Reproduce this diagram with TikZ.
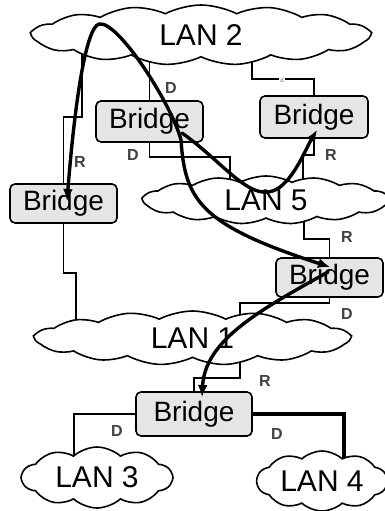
\documentclass[tikz,border=0pt]{standalone}
\usepackage{fontspec}
\setmainfont{Liberation Sans}
\usetikzlibrary{arrows.meta,shapes.symbols}
\tikzset{
  conn/.style={line width=1.8pt},
  thickconn/.style={line width=3.5pt},
  flow/.style={line width=3.4pt, line cap=round},
  ftip/.tip={Latex[length=12pt,width=10pt]},
  bridgebox/.style={rectangle, rounded corners=5pt,
    draw, line width=1.6pt, fill=black!10, inner sep=0pt, font=\fontsize{28}{28}\selectfont},
  lancloud/.style={cloud, cloud ignores aspect, draw, line width=1.6pt, fill=white, inner sep=0pt,
    font=\fontsize{30}{30}\selectfont},
  bigcloud/.style={lancloud, cloud puffs=15, cloud puff arc=55},
  smallcloud/.style={lancloud, cloud puffs=10, cloud puff arc=85},
  portlbl/.style={text=black!75, inner sep=0pt, font=\fontsize{16}{16}\selectfont\bfseries},
  tinylbl/.style={text=black!60, fill=white, inner sep=1pt, font=\fontsize{6}{6}\selectfont}
}
\begin{document}
\begin{tikzpicture}[x=1pt,y=-1pt]
\useasboundingbox (0,0) rectangle (385,511);
\clip (0,0) rectangle (385,511);
% ports inside the clouds
\coordinate (l2a) at (82,40);
\coordinate (l2b) at (149.5,45);
\coordinate (l2c) at (252,45);
\coordinate (l5a) at (230,195);
\coordinate (l5b) at (303,195);
\coordinate (l5c) at (304,205);
\coordinate (l1a) at (76,335);
\coordinate (l1b) at (240,335);
\coordinate (l1c) at (240,340);
\coordinate (l3p) at (74,475);
\coordinate (l4p) at (344,478);
% bridges
\node[bridgebox, minimum width=107pt, minimum height=41pt] (bA) at (149.5,121.5) {Bridge};
\node[bridgebox, minimum width=108pt, minimum height=42pt] (bB) at (314,117) {Bridge};
\node[bridgebox, minimum width=107pt, minimum height=39pt] (bC) at (63.5,203.5) {Bridge};
\node[bridgebox, minimum width=107pt, minimum height=39pt] (bD) at (329.5,277.5) {Bridge};
\node[bridgebox, minimum width=116pt, minimum height=44pt] (bE) at (194,414) {Bridge};
% connectors
\draw[conn] (l2a) |- (63.5,117) -- (bC.north);
\draw[conn] (bC.south) |- (76,273) -- (l1a);
\draw[conn] (l2b) -- (bA.north);
\draw[conn] (bA.south) |- (230,157) -- (l5a);
\draw[conn] (l2c) |- (314,79) -- (bB.north);
\draw[conn] (bB.south) |- (303,155) -- (l5b);
\draw[conn] (l5c) |- (329.5,239) -- (bD.north);
\draw[conn] (bD.south) |- (240,303) -- (l1b);
\draw[conn] (l1c) |- (194,378) -- (bE.north);
\draw[conn] (bE.west) -| (l3p);
\draw[thickconn] (bE.east) -| (l4p);
% clouds (LANs)
\node[bigcloud, minimum width=338pt, minimum height=60pt] (lan2) at (201,35) {LAN 2};
\node[bigcloud, minimum width=246pt, minimum height=48pt] (lan5) at (266,200) {LAN 5};
\node[bigcloud, minimum width=315pt, minimum height=54pt] (lan1) at (192.5,338) {LAN 1};
\node[smallcloud, minimum width=150pt, minimum height=61pt] (lan3) at (97,477.5) {LAN 3};
\node[smallcloud, minimum width=130pt, minimum height=60pt] (lan4) at (322,481) {LAN 4};
% port labels
\node[portlbl] (tD1) at (171,88) {D};
\node[portlbl] (tD2) at (133,155) {D};
\node[tinylbl] (td) at (282,80) {d};
\node[portlbl] (tR1) at (80,162) {R};
\node[portlbl] (tR2) at (331,155) {R};
\node[portlbl] (tR3) at (347,237) {R};
\node[portlbl] (tD3) at (347,314) {D};
\node[portlbl] (tR4) at (265,381) {R};
\node[portlbl] (tD4) at (117,431) {D};
\node[portlbl] (tD5) at (277,434) {D};
% flow arrows
\coordinate (apex) at (99,24);
\coordinate (mid) at (181,140);
\coordinate (tC) at (67,201);
\coordinate (tD) at (330,267);
\coordinate (sB) at (182,133);
\coordinate (low) at (268,192);
\coordinate (tB) at (317,130);
\coordinate (sE) at (328,272);
\coordinate (tE) at (202,397);
\draw[flow, {ftip}-{ftip}] (tC) .. controls (75,100) and (86,28) .. (apex)
   .. controls (118,20) and (172,105) .. (mid)
   .. controls (185,200) and (200,225) .. (tD);
\draw[flow, -{ftip}] (sB) .. controls (220,160) and (245,195) .. (low)
   .. controls (290,190) and (305,150) .. (tB);
\draw[flow, -{ftip}] (sE) .. controls (260,310) and (205,340) .. (tE);
\end{tikzpicture}
\end{document}
